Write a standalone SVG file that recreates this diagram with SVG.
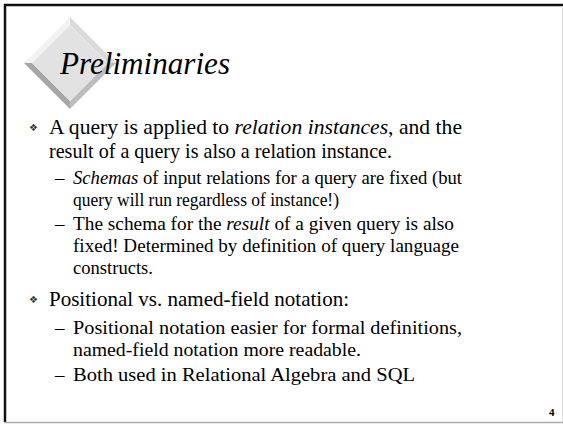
<svg xmlns="http://www.w3.org/2000/svg" width="563" height="424" viewBox="0 0 563 424">
<style>
.t{font-family:"Liberation Serif","Times New Roman",serif;fill:#000}
.b{font-size:21px}
.s{font-size:19px}
.bul{font-family:"DejaVu Sans",sans-serif;font-size:10px;fill:#333}
</style>
<rect x="0" y="0" width="563" height="424" fill="#fff"/>
<g id="frame">
<line x1="4" y1="5" x2="563" y2="5" stroke="#111" stroke-width="2.5"/>
<line x1="5" y1="4" x2="5" y2="422" stroke="#111" stroke-width="2.5"/>
<line x1="4" y1="422.5" x2="563" y2="422.5" stroke="#aaa" stroke-width="1.5"/>
<line x1="562.5" y1="6" x2="562.5" y2="422" stroke="#ddd" stroke-width="1"/>
</g>
<g id="diamond">
<polygon points="70,17 24,63 32,63 70,25" fill="#f3f3f3"/>
<polygon points="70,17 116,63 108,63 70,25" fill="#dadada"/>
<polygon points="116,63 70,109 70,101 108,63" fill="#bdbdbd"/>
<polygon points="24,63 70,109 70,101 32,63" fill="#a6a6a6"/>
<polygon points="70,25 108,63 70,101 32,63" fill="#e2e2e2"/>
</g>
<g id="title">
<text class="t" x="60" y="74" font-size="32" font-style="italic" textLength="170" lengthAdjust="spacingAndGlyphs">Preliminaries</text>
</g>
<g id="body">
<text class="bul" x="29" y="131">❖</text>
<text class="t b" x="49" y="134" textLength="413" lengthAdjust="spacingAndGlyphs">A query is applied to <tspan font-style="italic">relation instances</tspan>, and the</text>
<text class="t b" x="49" y="158" textLength="343" lengthAdjust="spacingAndGlyphs">result of a query is also a relation instance.</text>
<text class="t s" x="55" y="184">–</text>
<text class="t s" x="73" y="184" textLength="389" lengthAdjust="spacingAndGlyphs"><tspan font-style="italic">Schemas</tspan> of input relations for a query are fixed (but</text>
<text class="t s" x="73" y="206" textLength="266" lengthAdjust="spacingAndGlyphs">query will run regardless of instance!)</text>
<text class="t s" x="55" y="230">–</text>
<text class="t s" x="73" y="230" textLength="381" lengthAdjust="spacingAndGlyphs">The schema for the <tspan font-style="italic">result</tspan> of a given query is also</text>
<text class="t s" x="73" y="252" textLength="386" lengthAdjust="spacingAndGlyphs">fixed! Determined by definition of query language</text>
<text class="t s" x="73" y="274" textLength="80" lengthAdjust="spacingAndGlyphs">constructs.</text>
<text class="bul" x="29" y="303">❖</text>
<text class="t b" x="49" y="306" textLength="300" lengthAdjust="spacingAndGlyphs">Positional vs. named-field notation:</text>
<text class="t s" x="55" y="334">–</text>
<text class="t s" x="73" y="334" textLength="389" lengthAdjust="spacingAndGlyphs">Positional notation easier for formal definitions,</text>
<text class="t s" x="73" y="356" textLength="288" lengthAdjust="spacingAndGlyphs">named-field notation more readable.</text>
<text class="t s" x="55" y="381">–</text>
<text class="t s" x="73" y="381" textLength="342" lengthAdjust="spacingAndGlyphs">Both used in Relational Algebra and SQL</text>
<text class="t" x="549" y="416" font-size="11" font-weight="bold">4</text>
</g>
</svg>
